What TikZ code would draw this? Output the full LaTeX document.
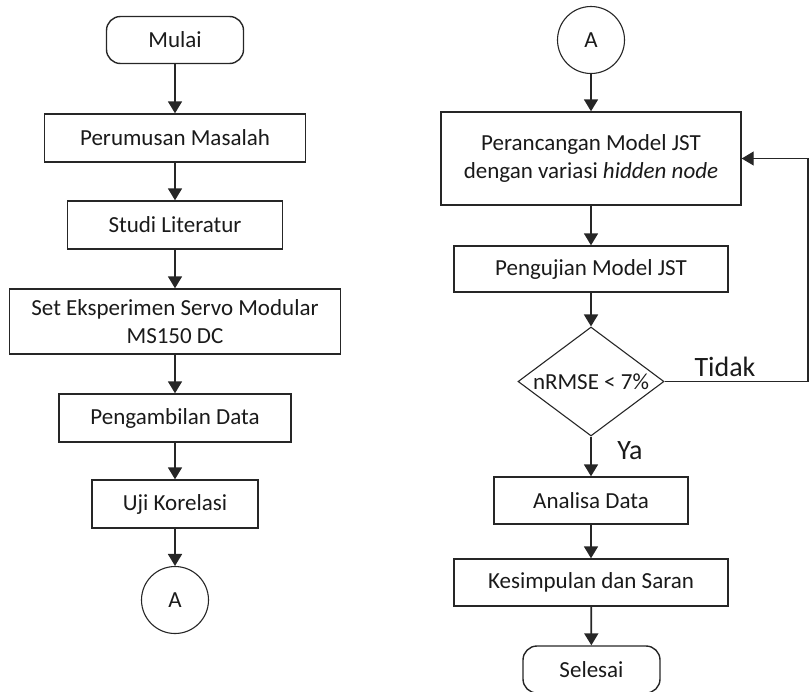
\documentclass[tikz,border=0pt]{standalone}
\usepackage{fontspec}
\setmainfont{Carlito}
\usepackage{tikz}
\usetikzlibrary{arrows.meta,shapes.geometric}
\definecolor{LineDark}{HTML}{262626}
\definecolor{TextDark}{HTML}{1A1A1A}

\begin{document}
\begin{tikzpicture}[x=1pt,y=-1pt,
  every node/.style={font=\fontsize{23}{28}\selectfont, text=TextDark},
  proses/.style={draw=LineDark, line width=1.4pt, rectangle, align=center, inner sep=0pt},
  terminal/.style={draw=LineDark, line width=1.4pt, rectangle, rounded corners=14pt, minimum width=137pt, minimum height=47pt},
  konektor/.style={draw=LineDark, line width=1.1pt, circle, minimum size=67pt, inner sep=0pt},
  keputusan/.style={draw=LineDark, line width=1.1pt, diamond, aspect=1.34, inner sep=0pt, minimum width=146pt, minimum height=109pt},
  panah/.style={draw=LineDark, line width=1.8pt, -{Triangle[length=12pt,width=14pt]}},
  label/.style={font=\fontsize{28}{32}\selectfont}]
  \useasboundingbox (0,0) rectangle (810,691);
  \node[terminal] (mulai) at (175,40) {Mulai};
  \node[proses, minimum width=261pt, minimum height=48pt] (rumus) at (175,138) {Perumusan Masalah};
  \node[proses, minimum width=215pt, minimum height=48pt] (studi) at (175,225) {Studi Literatur};
  \node[proses, minimum width=331pt, minimum height=65pt] (setexp) at (175,321.5) {Set Eksperimen Servo Modular\\MS150 DC};
  \node[proses, minimum width=232pt, minimum height=48pt] (ambil) at (175,418) {Pengambilan Data};
  \node[proses, minimum width=166pt, minimum height=48pt] (korelasi) at (175,504) {Uji Korelasi};
  \node[konektor] (konA) at (175,600) {A};
  \draw[panah] (mulai) -- (rumus);
  \draw[panah] (rumus) -- (studi);
  \draw[panah] (studi) -- (setexp);
  \draw[panah] (setexp) -- (ambil);
  \draw[panah] (ambil) -- (korelasi);
  \draw[panah] (korelasi) -- (konA);
  \node[konektor] (konB) at (591,40) {A};
  \node[proses, minimum width=300pt, minimum height=93pt] (rancang) at (591,158.5) {Perancangan Model JST\\dengan variasi \textit{hidden node}};
  \node[proses, minimum width=274pt, minimum height=46pt] (ujijst) at (591,269) {Pengujian Model JST};
  \node[keputusan] (cek) at (591,381.5) {nRMSE < 7\%};
  \node[proses, minimum width=194pt, minimum height=47pt] (analisa) at (591,500.5) {Analisa Data};
  \node[proses, minimum width=274pt, minimum height=47pt] (simpul) at (591,582.5) {Kesimpulan dan Saran};
  \node[terminal] (selesai) at (591.5,669.5) {Selesai};
  \coordinate (balik) at (808,381.5);
  \draw[panah] (konB) -- (rancang);
  \draw[panah] (rancang) -- (ujijst);
  \draw[panah] (ujijst) -- (cek);
  \draw[panah] (cek) -- (analisa);
  \draw[panah] (analisa) -- (simpul);
  \draw[panah] (simpul) -- (selesai);
  \draw[panah, line width=1.3pt] (cek.east) -- (balik) |- (rancang.east);
  \node[label] (tidak) at (725,367) {Tidak};
  \node[label] (ya) at (630,451) {Ya};
\end{tikzpicture}
\end{document}
